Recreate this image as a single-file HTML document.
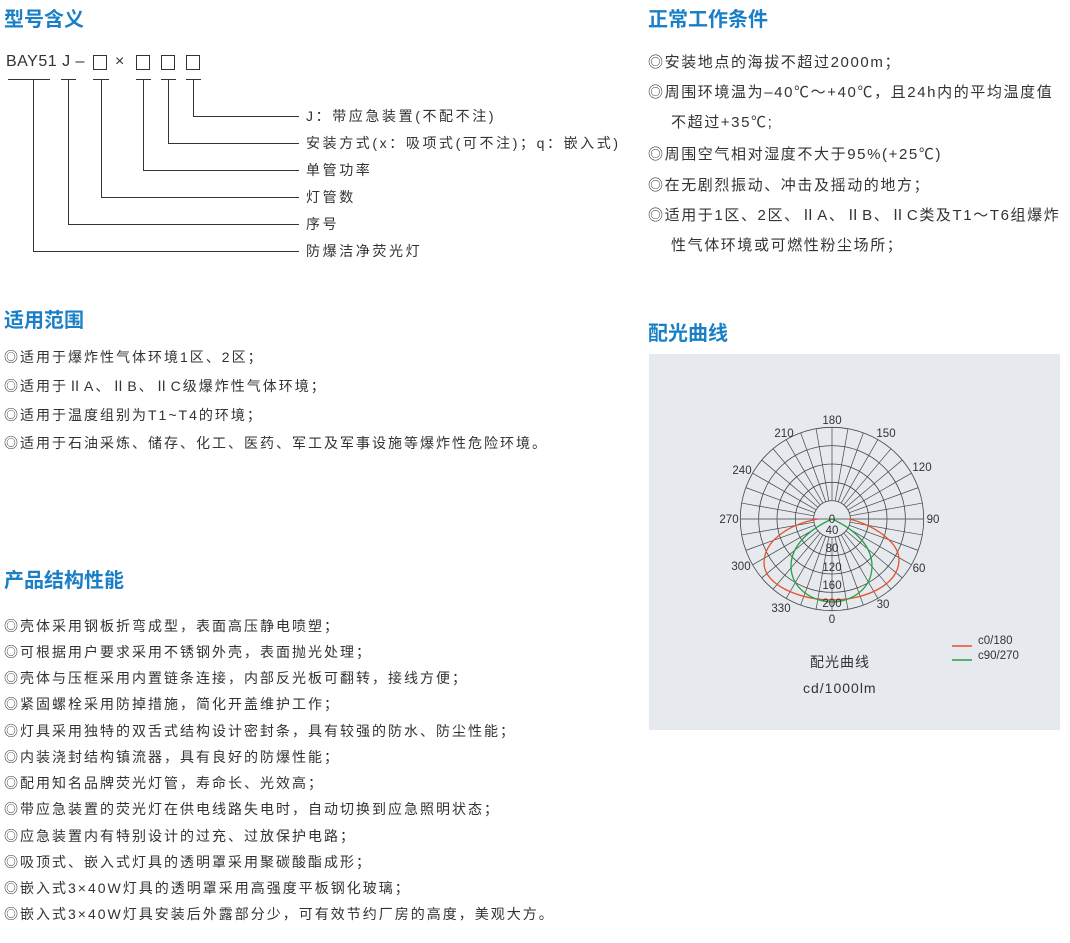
<!DOCTYPE html>
<html><head><meta charset="utf-8"><style>
body{margin:0;width:1070px;height:943px;background:#fff;position:relative;overflow:hidden;font-family:"Liberation Sans","Noto Sans CJK SC",sans-serif;color:#333}
.h{position:absolute;font-size:20px;font-weight:bold;color:#1a7fc6;line-height:24px}
.t{position:absolute;font-size:14px;line-height:20px;white-space:nowrap;letter-spacing:2px}
.r{font-size:15px;letter-spacing:1.6px}
.m{letter-spacing:2.6px}
.ln{position:absolute;background:#333}
.box{position:absolute;width:12px;height:13px;border:1px solid #333}
</style></head><body>
<div class="h" style="left:4px;top:8px">型号含义</div>
<div class="t" style="left:6px;top:52px;font-size:16px;letter-spacing:0.5px">BAY51 J –</div>
<div class="box" style="left:93px;top:55px"></div>
<div class="t" style="left:115px;top:52px;font-size:16px">×</div>
<div class="box" style="left:136px;top:55px"></div>
<div class="box" style="left:161px;top:55px"></div>
<div class="box" style="left:186px;top:55px"></div>
<div class="ln" style="left:8px;top:79px;width:42px;height:1px"></div>
<div class="ln" style="left:61px;top:79px;width:15px;height:1px"></div>
<div class="ln" style="left:93px;top:79px;width:16px;height:1px"></div>
<div class="ln" style="left:136px;top:79px;width:15px;height:1px"></div>
<div class="ln" style="left:161px;top:79px;width:15px;height:1px"></div>
<div class="ln" style="left:186px;top:79px;width:15px;height:1px"></div>
<div class="ln" style="left:33px;top:79px;width:1px;height:172px"></div>
<div class="ln" style="left:68px;top:79px;width:1px;height:145px"></div>
<div class="ln" style="left:101px;top:79px;width:1px;height:118px"></div>
<div class="ln" style="left:143px;top:79px;width:1px;height:91px"></div>
<div class="ln" style="left:168px;top:79px;width:1px;height:64px"></div>
<div class="ln" style="left:193px;top:79px;width:1px;height:37px"></div>
<div class="ln" style="left:193px;top:116px;width:106px;height:1px"></div>
<div class="ln" style="left:168px;top:143px;width:131px;height:1px"></div>
<div class="ln" style="left:143px;top:170px;width:156px;height:1px"></div>
<div class="ln" style="left:101px;top:197px;width:198px;height:1px"></div>
<div class="ln" style="left:68px;top:224px;width:231px;height:1px"></div>
<div class="ln" style="left:33px;top:251px;width:266px;height:1px"></div>
<div class="t m" style="left:306px;top:106px">J：带应急装置(不配不注)</div>
<div class="t m" style="left:306px;top:133px">安装方式(x：吸项式(可不注)；q：嵌入式)</div>
<div class="t m" style="left:306px;top:160px">单管功率</div>
<div class="t m" style="left:306px;top:187px">灯管数</div>
<div class="t m" style="left:306px;top:214px">序号</div>
<div class="t m" style="left:306px;top:241px">防爆洁净荧光灯</div>

<div class="h" style="left:4px;top:309px">适用范围</div>
<div class="t" style="left:4px;top:347px">◎适用于爆炸性气体环境1区、2区；</div>
<div class="t" style="left:4px;top:376px">◎适用于ⅡA、ⅡB、ⅡC级爆炸性气体环境；</div>
<div class="t" style="left:4px;top:405px">◎适用于温度组别为T1~T4的环境；</div>
<div class="t" style="left:4px;top:433px">◎适用于石油采炼、储存、化工、医药、军工及军事设施等爆炸性危险环境。</div>

<div class="h" style="left:4px;top:569px">产品结构性能</div>
<div class="t" style="left:4px;top:616px">◎壳体采用钢板折弯成型，表面高压静电喷塑；</div>
<div class="t" style="left:4px;top:642px">◎可根据用户要求采用不锈钢外壳，表面抛光处理；</div>
<div class="t" style="left:4px;top:668px">◎壳体与压框采用内置链条连接，内部反光板可翻转，接线方便；</div>
<div class="t" style="left:4px;top:694px">◎紧固螺栓采用防掉措施，简化开盖维护工作；</div>
<div class="t" style="left:4px;top:721px">◎灯具采用独特的双舌式结构设计密封条，具有较强的防水、防尘性能；</div>
<div class="t" style="left:4px;top:747px">◎内装浇封结构镇流器，具有良好的防爆性能；</div>
<div class="t" style="left:4px;top:773px">◎配用知名品牌荧光灯管，寿命长、光效高；</div>
<div class="t" style="left:4px;top:799px">◎带应急装置的荧光灯在供电线路失电时，自动切换到应急照明状态；</div>
<div class="t" style="left:4px;top:826px">◎应急装置内有特别设计的过充、过放保护电路；</div>
<div class="t" style="left:4px;top:852px">◎吸顶式、嵌入式灯具的透明罩采用聚碳酸酯成形；</div>
<div class="t" style="left:4px;top:878px">◎嵌入式3×40W灯具的透明罩采用高强度平板钢化玻璃；</div>
<div class="t" style="left:4px;top:904px">◎嵌入式3×40W灯具安装后外露部分少，可有效节约厂房的高度，美观大方。</div>

<div class="h" style="left:648px;top:8px">正常工作条件</div>
<div class="t r" style="left:648px;top:53px">◎安装地点的海拔不超过2000m；</div>
<div class="t r" style="left:648px;top:83px">◎周围环境温为–40℃～+40℃，且24h内的平均温度值</div>
<div class="t r" style="left:671px;top:113px">不超过+35℃;</div>
<div class="t r" style="left:648px;top:145px">◎周围空气相对湿度不大于95%(+25℃)</div>
<div class="t r" style="left:648px;top:176px">◎在无剧烈振动、冲击及摇动的地方；</div>
<div class="t r" style="left:648px;top:206px">◎适用于1区、2区、ⅡA、ⅡB、ⅡC类及T1～T6组爆炸</div>
<div class="t r" style="left:671px;top:236px">性气体环境或可燃性粉尘场所；</div>

<div class="h" style="left:648px;top:322px">配光曲线</div>
<div style="position:absolute;left:649px;top:354px;width:411px;height:376px;background:#e6eaee"></div>
<svg id="pc" style="position:absolute;left:0;top:0" width="1070" height="943" font-family="Liberation Sans, sans-serif" font-size="11.5" fill="#333"></svg>
<div class="t" style="left:810px;top:652px;letter-spacing:1px">配光曲线</div>
<div class="t" style="left:803px;top:678px;letter-spacing:1px">cd/1000lm</div>
<script>
var s=document.getElementById('pc'),cx=832,cy=519,R=91.7,h='';
for(var i=1;i<=5;i++)h+='<circle cx="'+cx+'" cy="'+cy+'" r="'+(R*i/5)+'" fill="none" stroke="#444" stroke-width="0.8"/>';
for(var a=0;a<360;a+=10){var r=a*Math.PI/180,r0=R/5;
h+='<line x1="'+(cx+r0*Math.cos(r))+'" y1="'+(cy+r0*Math.sin(r))+'" x2="'+(cx+R*Math.cos(r))+'" y2="'+(cy+R*Math.sin(r))+'" stroke="#444" stroke-width="0.7"/>';}
h+='<line x1="'+(cx-R)+'" y1="'+cy+'" x2="'+(cx+R)+'" y2="'+cy+'" stroke="#666" stroke-width="1"/>';
h+='<path d="M818 519 C790 524 764 540 764 563 C764 585 800 600 832 600 C865 600 899 585 899 560 C899 540 870 524 849 519" fill="none" stroke="#e8502a" stroke-width="1.3"/>';
h+='<path d="M832 519 C812 528 791 544 791 566 C791 590 815 602 832 602 C850 602 872 590 872 566 C872 544 852 528 832 519" fill="none" stroke="#27a04a" stroke-width="1.3"/>';
var L=[['180',832,424],['150',886,437],['120',922,471],['90',933,523],['60',919,572],['30',883,608],['0',832,623],['330',781,612],['300',741,570],['270',729,523],['240',742,474],['210',784,437],['0',832,523],['40',832,534],['80',832,552],['120',832,571],['160',832,589],['200',832,607]];
L.forEach(function(l){h+='<text x="'+l[1]+'" y="'+l[2]+'" text-anchor="middle">'+l[0]+'</text>';});
h+='<line x1="952" y1="646" x2="972" y2="646" stroke="#e8502a" stroke-width="1.5"/><line x1="952" y1="660" x2="972" y2="660" stroke="#27a04a" stroke-width="1.5"/>';
h+='<text x="978" y="644">c0/180</text><text x="978" y="659">c90/270</text>';
s.innerHTML=h;
</script>
</body></html>
